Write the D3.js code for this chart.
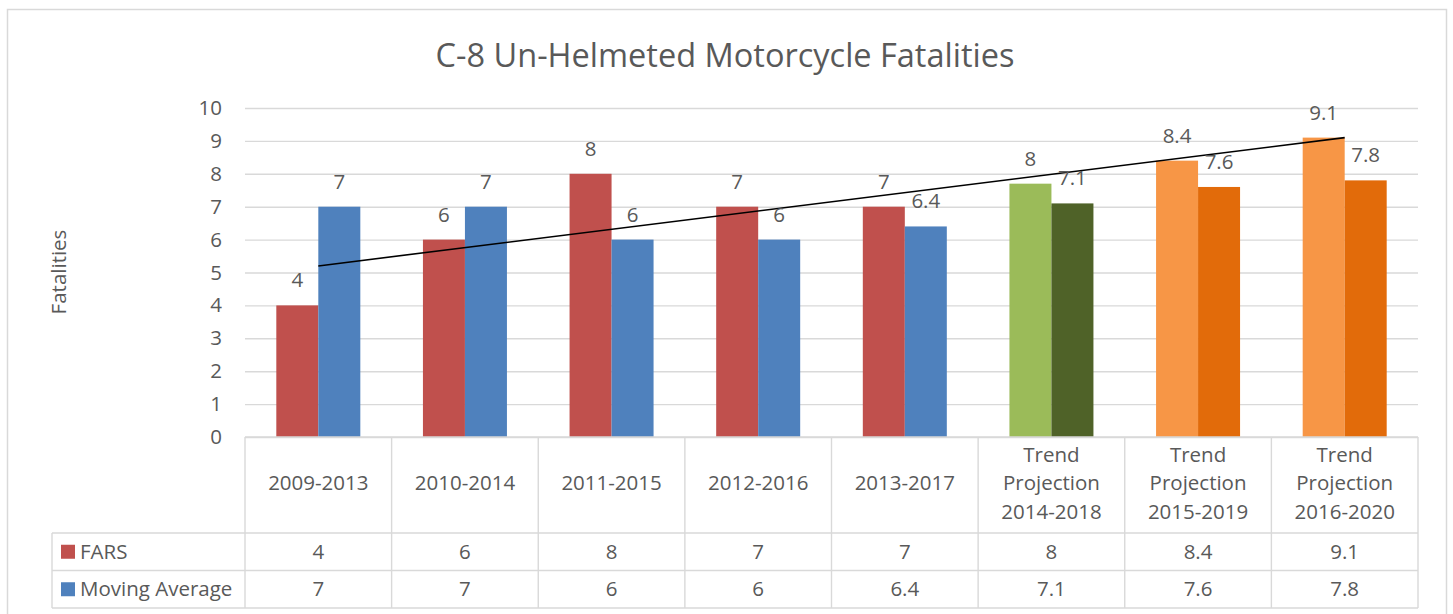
<!DOCTYPE html>
<html>
<head>
<meta charset="utf-8">
<script src="https://cdn.jsdelivr.net/npm/d3@7"></script>
<style>
  body { margin: 0; background: #fff; }
  text { font-family: "Open Sans", "Liberation Sans", sans-serif; fill: #595959; }
</style>
</head>
<body>
<script>
// Chart data
var categories = ["2009-2013", "2010-2014", "2011-2015", "2012-2016", "2013-2017",
  "Trend Projection 2014-2018", "Trend Projection 2015-2019", "Trend Projection 2016-2020"];
var farsValues = [4, 6, 8, 7, 7, 7.7, 8.4, 9.1];
var farsLabels = ["4", "6", "8", "7", "7", "8", "8.4", "9.1"];
var maValues = [7, 7, 6, 6, 6.4, 7.1, 7.6, 7.8];
var maLabels = ["7", "7", "6", "6", "6.4", "7.1", "7.6", "7.8"];
var yTicks = [0, 1, 2, 3, 4, 5, 6, 7, 8, 9, 10];
var trendEnds = [5.2, 9.1];   // linear trend of FARS, first and last category

// bar colours per category
var farsColors = ["#C0504D", "#C0504D", "#C0504D", "#C0504D", "#C0504D", "#9BBB59", "#F79646", "#F79646"];
var maColors = ["#4F81BD", "#4F81BD", "#4F81BD", "#4F81BD", "#4F81BD", "#4F6228", "#E26B0A", "#E26B0A"];

var svgWidth = 1453, svgHeight = 614;
var plotLeft = 245, plotRight = 1418, plotTop = 108, plotBottom = 437;
var headerBottom = 533, rowH = 37.5;
var gridColor = "#D9D9D9";
var fs = "20.5px";

var svg = d3.select("body").append("svg")
  .attr("width", svgWidth)
  .attr("height", svgHeight);

// outer chart border
svg.append("rect")
  .attr("x", 7.5).attr("y", 9.5)
  .attr("width", 1439).attr("height", 640)
  .attr("fill", "none")
  .attr("stroke", gridColor)
  .attr("stroke-width", 1.5);

// title
svg.append("text")
  .attr("x", 725)
  .attr("y", 67)
  .attr("text-anchor", "middle")
  .style("font-size", "32.5px")
  .text("C-8 Un-Helmeted Motorcycle Fatalities");

// scales
var x = d3.scaleBand().domain(categories).range([plotLeft, plotRight]).padding(0);
var groupW = 84;
var sub = d3.scaleBand().domain(["fars", "ma"]).range([0, groupW]);
var y = d3.scaleLinear().domain([0, 10]).range([plotBottom, plotTop]);

function groupX(c) { return x(c) + (x.bandwidth() - groupW) / 2; }
function center(c) { return x(c) + x.bandwidth() / 2; }

// gridlines
svg.append("g")
  .attr("transform", "translate(" + plotLeft + ",0)")
  .call(d3.axisLeft(y).tickValues(yTicks).tickSize(-(plotRight - plotLeft)).tickFormat(""))
  .call(function(g) { g.select(".domain").remove(); })
  .selectAll("line")
  .attr("stroke", gridColor)
  .attr("stroke-width", 1.4);

// y axis labels
svg.append("g")
  .attr("transform", "translate(" + plotLeft + ",0)")
  .call(d3.axisLeft(y).tickValues(yTicks).tickSize(0).tickPadding(23))
  .call(function(g) { g.select(".domain").remove(); })
  .selectAll("text")
  .style("font-size", fs)
  .style("font-family", "'Open Sans', sans-serif")
  .attr("fill", "#595959");

// y axis title
svg.append("text")
  .attr("transform", "translate(66,272) rotate(-90)")
  .attr("text-anchor", "middle")
  .style("font-size", fs)
  .text("Fatalities");

// bars
var bars = svg.append("g");
bars.selectAll(".fars")
  .data(categories)
  .enter().append("rect")
  .attr("x", function(c) { return groupX(c) + sub("fars"); })
  .attr("y", function(c, i) { return y(farsValues[i]); })
  .attr("width", sub.bandwidth())
  .attr("height", function(c, i) { return y(0) - y(farsValues[i]); })
  .attr("fill", function(c, i) { return farsColors[i]; });

bars.selectAll(".ma")
  .data(categories)
  .enter().append("rect")
  .attr("x", function(c) { return groupX(c) + sub("ma"); })
  .attr("y", function(c, i) { return y(maValues[i]); })
  .attr("width", sub.bandwidth())
  .attr("height", function(c, i) { return y(0) - y(maValues[i]); })
  .attr("fill", function(c, i) { return maColors[i]; });

// trend line
var trendLine = d3.line()
  .x(function(d) { return center(d.c); })
  .y(function(d) { return y(d.v); });
svg.append("path")
  .datum([{c: categories[0], v: trendEnds[0]}, {c: categories[categories.length - 1], v: trendEnds[1]}])
  .attr("d", trendLine)
  .attr("fill", "none")
  .attr("stroke", "#000")
  .attr("stroke-width", 1.6);

// data labels
var labels = svg.append("g").style("font-size", fs);
labels.selectAll(".fl")
  .data(categories)
  .enter().append("text")
  .attr("x", function(c) { return groupX(c) + sub("fars") + sub.bandwidth() / 2; })
  .attr("y", function(c, i) { return y(farsValues[i]) - 18; })
  .attr("text-anchor", "middle")
  .text(function(c, i) { return farsLabels[i]; });

labels.selectAll(".ml")
  .data(categories)
  .enter().append("text")
  .attr("x", function(c) { return groupX(c) + sub("ma") + sub.bandwidth() / 2; })
  .attr("y", function(c, i) { return y(maValues[i]) - 18; })
  .attr("text-anchor", "middle")
  .text(function(c, i) { return maLabels[i]; });

// data table
var table = svg.append("g")
  .attr("stroke", gridColor)
  .attr("stroke-width", 1.4)
  .attr("fill", "none");
var tableBottom = headerBottom + 2 * rowH;

// horizontal rules
table.append("line").attr("x1", plotLeft).attr("x2", plotRight).attr("y1", plotBottom).attr("y2", plotBottom);
[headerBottom, headerBottom + rowH, tableBottom].forEach(function(yy) {
  table.append("line").attr("x1", 52).attr("x2", plotRight).attr("y1", yy).attr("y2", yy);
});
// vertical rules
table.append("line").attr("x1", 52).attr("x2", 52).attr("y1", headerBottom).attr("y2", tableBottom);
categories.forEach(function(c) {
  table.append("line").attr("x1", x(c)).attr("x2", x(c)).attr("y1", plotBottom).attr("y2", tableBottom);
});
table.append("line").attr("x1", plotRight).attr("x2", plotRight).attr("y1", plotBottom).attr("y2", tableBottom);

// header text
var header = svg.append("g").style("font-size", fs);
categories.forEach(function(c) {
  var lines = c.indexOf("Trend") === 0 ? ["Trend", "Projection", c.replace("Trend Projection ", "")] : [c];
  var lineH = 28.5;
  var mid = (plotBottom + headerBottom) / 2 - 2;
  lines.forEach(function(t, k) {
    header.append("text")
      .attr("x", center(c))
      .attr("y", mid + (k - (lines.length - 1) / 2) * lineH)
      .attr("dy", "0.35em")
      .attr("text-anchor", "middle")
      .text(t);
  });
});

// table rows
var rows = [
  {name: "FARS", color: farsColors[0], labels: farsLabels},
  {name: "Moving Average", color: maColors[0], labels: maLabels}
];
rows.forEach(function(r, k) {
  var cy = headerBottom + k * rowH + rowH / 2;
  svg.append("rect")
    .attr("x", 61).attr("y", cy - 7)
    .attr("width", 14).attr("height", 14)
    .attr("fill", r.color);
  svg.append("text")
    .attr("x", 80).attr("y", cy)
    .attr("dy", "0.35em")
    .style("font-size", fs)
    .text(r.name);
  categories.forEach(function(c, i) {
    svg.append("text")
      .attr("x", center(c)).attr("y", cy)
      .attr("dy", "0.35em")
      .attr("text-anchor", "middle")
      .style("font-size", fs)
      .text(r.labels[i]);
  });
});
</script>
</body>
</html>
